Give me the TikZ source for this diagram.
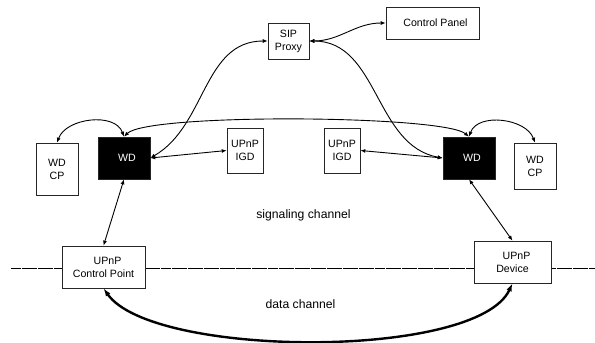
\documentclass[tikz,border=0pt]{standalone}
\usepackage{fontspec}
\setmainfont{Liberation Sans}
\usetikzlibrary{arrows.meta}
\tikzset{
  plainbox/.style={
    draw=black!85,
    fill=white,
    line width=0.6pt,
    align=center,
    inner sep=1pt,
    font=\fontsize{10.6}{13}\selectfont
  },
  wdbox/.style={
    plainbox,
    fill=black,
    text=white
  },
  sigarrow/.style={
    {Latex[length=5pt,width=4pt]}-{Latex[length=5pt,width=4pt]},
    line width=0.9pt
  },
  dataarrow/.style={
    {Latex[length=8pt,width=5.5pt]}-{Latex[length=8pt,width=5.5pt]},
    line width=2.4pt
  },
  channelline/.style={
    line width=0.7pt,
    dash pattern=on 5pt off 0.35pt
  },
  channellabel/.style={
    font=\fontsize{12.2}{14}\selectfont
  }
}

\begin{document}
\begin{tikzpicture}[x=1pt, y=1pt]
    \useasboundingbox (0,0) rectangle (595,343);

    % border between the two channels
    \coordinate (lineleft) at (11,75);
    \coordinate (lineright) at (595,75);
    \draw[channelline] (lineleft) -- (lineright);

    \node[plainbox, minimum width=41pt, minimum height=36pt] (sipproxy) at (288.5,302) {SIP\\Proxy};
    \node[plainbox, minimum width=93pt, minimum height=32pt] (controlpanel) at (432.5,320) {\hspace*{6pt}Control Panel};
    \node[wdbox, minimum width=52pt, minimum height=42pt] (wdleft) at (124,185) {\hspace*{6pt}WD};
    \node[wdbox, minimum width=52pt, minimum height=42pt] (wdright) at (469,185) {\hspace*{6pt}WD};
    \node[plainbox, minimum width=42pt, minimum height=52pt] (wdcpleft) at (57,174) {WD\\CP};
    \node[plainbox, minimum width=42pt, minimum height=46pt] (wdcpright) at (535,177) {WD\\CP};
    \node[plainbox, minimum width=36pt, minimum height=45pt] (igdleft) at (245,192.5) {UPnP\\IGD};
    \node[plainbox, minimum width=36pt, minimum height=45pt] (igdright) at (342,192.5) {UPnP\\IGD};
    \node[plainbox, minimum width=83pt, minimum height=42pt] (upnpcp) at (103.5,76) {\hspace*{8pt}UPnP\\Control Point};
    \node[plainbox, minimum width=77pt, minimum height=42pt] (upnpdevice) at (512.5,81) {\hspace*{8pt}UPnP\\Device};

    \node[channellabel] (signaling) at (303.5,128) {signaling channel};
    \node[channellabel] (datalabel) at (300.5,39) {data channel};

    % signaling paths
    \draw[sigarrow] (sipproxy.east) to[out=0, in=180] (controlpanel.west);
    \draw[sigarrow] (sipproxy.west) to[out=180, in=30] (wdleft.east);
    \draw[sigarrow] (sipproxy.east) to[out=0, in=170] (wdright.west);
    \draw[sigarrow] (wdleft.north) to[out=45, in=140, looseness=0.25] (wdright.north);
    \draw[sigarrow] (wdleft.north) to[out=110, in=70] (wdcpleft.north);
    \draw[sigarrow] (wdright.north) to[out=70, in=110] (wdcpright.north);
    \draw[sigarrow] (wdleft.east) -- (igdleft.west);
    \draw[sigarrow] (wdright.west) -- (igdright.east);
    \draw[sigarrow] (wdleft.south) -- (upnpcp.north);
    \draw[sigarrow] (wdright.south) -- (upnpdevice.north);

    % data path
    \draw[dataarrow] (upnpcp.south) to[out=-55, in=-115, looseness=0.53] (upnpdevice.south);
\end{tikzpicture}
\end{document}
